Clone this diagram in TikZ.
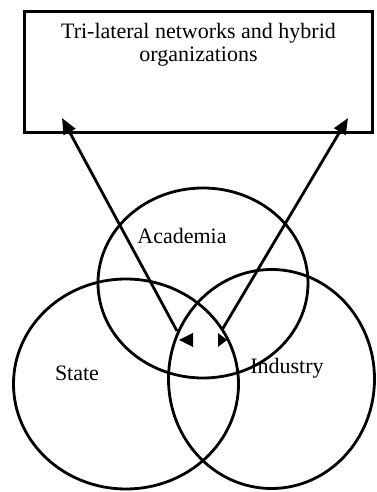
\documentclass[tikz,border=0pt]{standalone}
\usepackage{fontspec}
\setmainfont{Liberation Serif}
\usetikzlibrary{arrows.meta}

\begin{document}
\begin{tikzpicture}[x=1pt,y=1pt,line width=2.8pt,
  font=\fontsize{22}{23}\selectfont,
  >={Triangle[length=16pt,width=13pt]},
  sphere/.style={draw},
  title/.style={anchor=north,yshift=-12pt,align=center,inner sep=0pt}]
\useasboundingbox (0,0) rectangle (376,492);
\node[draw, minimum width=348pt, minimum height=121pt, inner sep=0pt,
      label={[title]north:Tri-lateral networks and hybrid\\organizations}] (orgs) at (198.5,420) {};
\draw[sphere] (203,209) ellipse [x radius=105pt, y radius=95pt];
\draw[sphere] (126,108) ellipse [x radius=112.5pt, y radius=105pt];
\draw[sphere] (271.5,113) ellipse [x radius=103pt, y radius=109.5pt];
\node (academia) at (182,256) {Academia};
\node (state) at (77,119) {State};
\node (industry) at (287,124) {Industry};
\coordinate (a_tip) at (62,374);
\coordinate (a_end) at (177,161);
\coordinate (i_tip) at (348,374);
\coordinate (i_end) at (222,162);
\path[->]
(a_end) edge (a_tip)
(i_end) edge (i_tip);
\fill (179,152) -- (193,159) -- (193,145) -- cycle;
\fill (227,152) -- (218,159) -- (218,145) -- cycle;
\end{tikzpicture}
\end{document}
